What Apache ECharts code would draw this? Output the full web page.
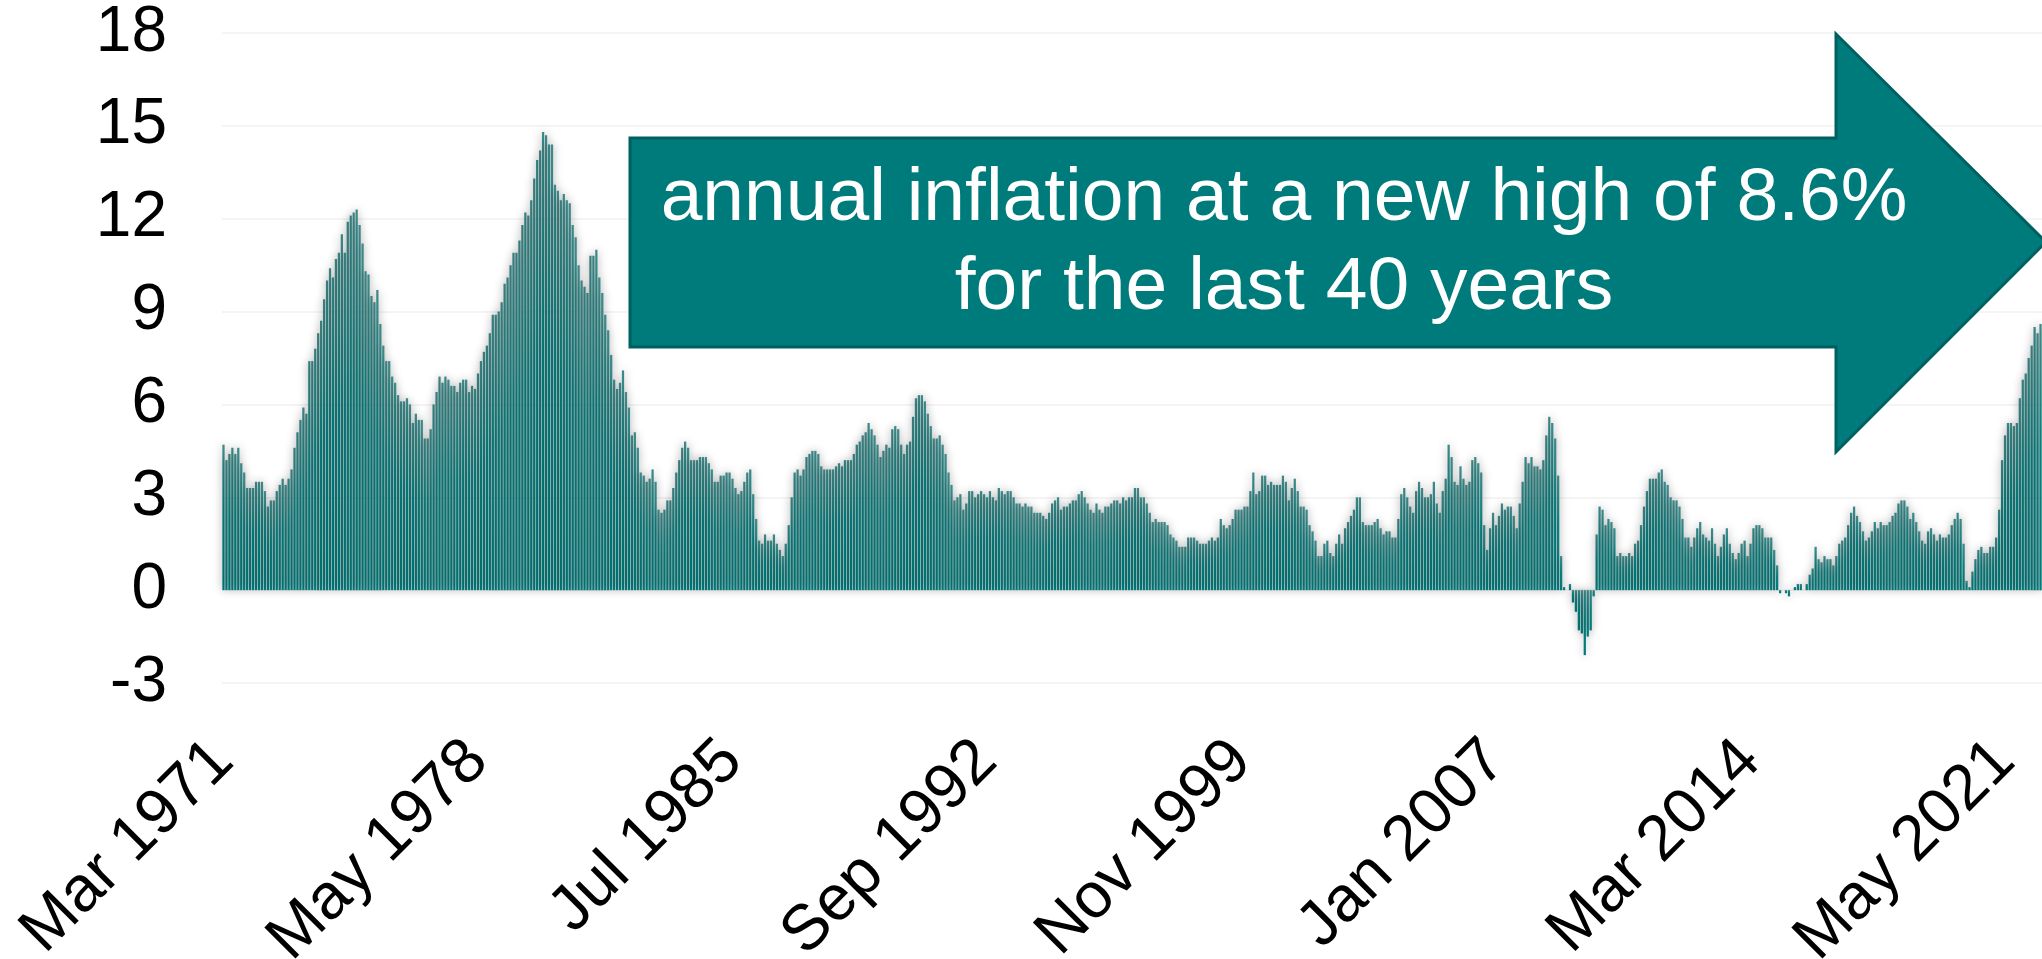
<!DOCTYPE html>
<html>
<head>
<meta charset="utf-8">
<script src="https://cdn.jsdelivr.net/npm/echarts@6/dist/echarts.min.js"></script>
<style>
html,body{margin:0;padding:0;background:#fff;}
#chart{width:2042px;height:959px;}
</style>
</head>
<body>
<div id="chart"></div>
<script>
// US annual (12-month) CPI inflation, %, monthly from Mar 1971 to May 2022
const startYear = 1971;
const startMonth = 2; // March (0-based)
const inflation = [
  // 1971 Mar-Dec
  4.7, 4.2, 4.4, 4.6, 4.4, 4.6, 4.1, 3.8, 3.3, 3.3,
  // 1972
  3.3, 3.5, 3.5, 3.5, 3.2, 2.7, 2.9, 2.9, 3.2, 3.4, 3.6, 3.4,
  // 1973
  3.6, 3.9, 4.6, 5.1, 5.5, 5.9, 5.7, 7.4, 7.4, 7.8, 8.3, 8.7,
  // 1974
  9.4, 10.0, 10.4, 10.1, 10.7, 10.9, 11.5, 10.9, 11.9, 12.1, 12.2, 12.3,
  // 1975
  11.8, 11.2, 10.3, 10.2, 9.5, 9.3, 9.7, 8.6, 7.9, 7.4, 7.4, 6.9,
  // 1976
  6.7, 6.3, 6.1, 6.1, 6.2, 6.0, 5.4, 5.7, 5.5, 5.5, 4.9, 4.9,
  // 1977
  5.2, 6.0, 6.4, 6.9, 6.7, 6.9, 6.8, 6.6, 6.6, 6.4, 6.7, 6.8,
  // 1978
  6.8, 6.4, 6.6, 6.5, 7.0, 7.4, 7.7, 7.9, 8.3, 8.9, 8.9, 9.0,
  // 1979
  9.3, 9.9, 10.1, 10.5, 10.9, 10.9, 11.3, 11.8, 12.2, 12.1, 12.6, 13.3,
  // 1980
  13.9, 14.2, 14.8, 14.7, 14.4, 14.4, 13.1, 12.9, 12.6, 12.8, 12.6, 12.5,
  // 1981
  11.8, 11.4, 10.5, 10.0, 9.8, 9.6, 10.8, 10.8, 11.0, 10.1, 9.6, 8.9,
  // 1982
  8.4, 7.6, 6.8, 6.5, 6.7, 7.1, 6.4, 5.9, 5.0, 5.1, 4.6, 3.8,
  // 1983
  3.7, 3.5, 3.6, 3.9, 3.5, 2.6, 2.5, 2.6, 2.9, 2.9, 3.3, 3.8,
  // 1984
  4.2, 4.6, 4.8, 4.6, 4.2, 4.2, 4.2, 4.3, 4.3, 4.3, 4.1, 3.9,
  // 1985
  3.5, 3.5, 3.7, 3.7, 3.8, 3.8, 3.6, 3.3, 3.1, 3.2, 3.5, 3.8,
  // 1986
  3.9, 3.1, 2.3, 1.6, 1.5, 1.8, 1.6, 1.6, 1.8, 1.5, 1.3, 1.1,
  // 1987
  1.5, 2.1, 3.0, 3.8, 3.9, 3.7, 3.9, 4.3, 4.4, 4.5, 4.5, 4.4,
  // 1988
  4.0, 3.9, 3.9, 3.9, 3.9, 4.0, 4.1, 4.0, 4.2, 4.2, 4.2, 4.4,
  // 1989
  4.7, 4.8, 5.0, 5.1, 5.4, 5.2, 5.0, 4.7, 4.3, 4.5, 4.7, 4.6,
  // 1990
  5.2, 5.3, 5.2, 4.7, 4.4, 4.7, 4.8, 5.6, 6.2, 6.3, 6.3, 6.1,
  // 1991
  5.7, 5.3, 4.9, 4.9, 5.0, 4.7, 4.4, 3.8, 3.4, 2.9, 3.0, 3.1,
  // 1992
  2.6, 2.8, 3.2, 3.2, 3.0, 3.1, 3.2, 3.1, 3.0, 3.2, 3.0, 2.9,
  // 1993
  3.3, 3.2, 3.1, 3.2, 3.2, 3.0, 2.8, 2.8, 2.7, 2.8, 2.7, 2.7,
  // 1994
  2.5, 2.5, 2.5, 2.4, 2.3, 2.5, 2.8, 2.9, 3.0, 2.6, 2.7, 2.7,
  // 1995
  2.8, 2.9, 2.9, 3.1, 3.2, 3.0, 2.8, 2.6, 2.5, 2.8, 2.6, 2.5,
  // 1996
  2.7, 2.7, 2.8, 2.9, 2.9, 2.8, 3.0, 2.9, 3.0, 3.0, 3.3, 3.3,
  // 1997
  3.0, 3.0, 2.8, 2.5, 2.2, 2.3, 2.2, 2.2, 2.2, 2.1, 1.8, 1.7,
  // 1998
  1.6, 1.4, 1.4, 1.4, 1.7, 1.7, 1.7, 1.6, 1.5, 1.5, 1.5, 1.6,
  // 1999
  1.7, 1.6, 1.7, 2.3, 2.1, 2.0, 2.1, 2.3, 2.6, 2.6, 2.6, 2.7,
  // 2000
  2.7, 3.2, 3.8, 3.1, 3.2, 3.7, 3.7, 3.4, 3.5, 3.4, 3.4, 3.4,
  // 2001
  3.7, 3.5, 2.9, 3.3, 3.6, 3.2, 2.7, 2.7, 2.6, 2.1, 1.9, 1.6,
  // 2002
  1.1, 1.1, 1.5, 1.6, 1.2, 1.1, 1.5, 1.8, 1.5, 2.0, 2.2, 2.4,
  // 2003
  2.6, 3.0, 3.0, 2.2, 2.1, 2.1, 2.1, 2.2, 2.3, 2.0, 1.8, 1.9,
  // 2004
  1.9, 1.7, 1.7, 2.3, 3.1, 3.3, 3.0, 2.7, 2.5, 3.2, 3.5, 3.3,
  // 2005
  3.0, 3.0, 3.1, 3.5, 2.8, 2.5, 3.2, 3.6, 4.7, 4.3, 3.5, 3.4,
  // 2006
  4.0, 3.6, 3.4, 3.5, 4.2, 4.3, 4.1, 3.8, 2.1, 1.3, 2.0, 2.5,
  // 2007
  2.1, 2.4, 2.8, 2.6, 2.7, 2.7, 2.4, 2.0, 2.8, 3.5, 4.3, 4.1,
  // 2008
  4.3, 4.0, 4.0, 3.9, 4.2, 5.0, 5.6, 5.4, 4.9, 3.7, 1.1, 0.1,
  // 2009
  0.0, 0.2, -0.4, -0.7, -1.3, -1.4, -2.1, -1.5, -1.3, -0.2, 1.8, 2.7,
  // 2010
  2.6, 2.1, 2.3, 2.2, 2.0, 1.1, 1.2, 1.1, 1.1, 1.2, 1.1, 1.5,
  // 2011
  1.6, 2.1, 2.7, 3.2, 3.6, 3.6, 3.6, 3.8, 3.9, 3.5, 3.4, 3.0,
  // 2012
  2.9, 2.9, 2.7, 2.3, 1.7, 1.7, 1.4, 1.7, 2.0, 2.2, 1.8, 1.7,
  // 2013
  1.6, 2.0, 1.5, 1.1, 1.4, 1.8, 2.0, 1.5, 1.2, 1.0, 1.2, 1.5,
  // 2014
  1.6, 1.1, 1.5, 2.0, 2.1, 2.1, 2.0, 1.7, 1.7, 1.7, 1.3, 0.8,
  // 2015
  -0.1, 0.0, -0.1, -0.2, 0.0, 0.1, 0.2, 0.2, 0.0, 0.2, 0.5, 0.7,
  // 2016
  1.4, 1.0, 0.9, 1.1, 1.0, 1.0, 0.8, 1.1, 1.5, 1.6, 1.7, 2.1,
  // 2017
  2.5, 2.7, 2.4, 2.2, 1.9, 1.6, 1.7, 1.9, 2.2, 2.0, 2.2, 2.1,
  // 2018
  2.1, 2.2, 2.4, 2.5, 2.8, 2.9, 2.9, 2.7, 2.3, 2.5, 2.2, 1.9,
  // 2019
  1.6, 1.5, 1.9, 2.0, 1.8, 1.6, 1.8, 1.7, 1.7, 1.8, 2.1, 2.3,
  // 2020
  2.5, 2.3, 1.5, 0.3, 0.1, 0.6, 1.0, 1.3, 1.4, 1.2, 1.2, 1.4,
  // 2021
  1.4, 1.7, 2.6, 4.2, 5.0, 5.4, 5.4, 5.3, 5.4, 6.2, 6.8, 7.0,
  // 2022 Jan-May
  7.5, 7.9, 8.5, 8.3, 8.6
];
const monthNames = ['Jan','Feb','Mar','Apr','May','Jun','Jul','Aug','Sep','Oct','Nov','Dec'];
const categories = inflation.map((_, i) => {
  const m = startMonth + i;
  return monthNames[m % 12] + ' ' + (startYear + Math.floor(m / 12));
});
const tickLabels = ['Mar 1971','May 1978','Jul 1985','Sep 1992','Nov 1999','Jan 2007','Mar 2014','May 2021'];
const yTicks = { min: -3, max: 18, step: 3 };
const annotation = ['annual inflation at a new high of 8.6%', 'for the last 40 years'];

const chart = echarts.init(document.getElementById('chart'), null, { renderer: 'canvas' });
const FONT = '"Liberation Sans", Arial, sans-serif';
const option = {
  animation: false,
  backgroundColor: '#ffffff',
  grid: { left: 222, right: 0, top: 33, bottom: 276, containLabel: false, outerBoundsMode: 'none' },
  xAxis: {
    type: 'category',
    data: categories,
    axisLine: { show: false },
    axisTick: { show: false },
    splitLine: { show: false },
    axisLabel: {
      interval: (i, v) => tickLabels.indexOf(v) >= 0,
      rotate: 45,
      fontSize: 64,
      fontFamily: FONT,
      color: '#000',
      margin: 68
    }
  },
  yAxis: {
    type: 'value',
    min: yTicks.min, max: yTicks.max, interval: yTicks.step,
    axisLine: { show: false },
    axisTick: { show: false },
    splitLine: { show: true, lineStyle: { color: '#f4f4f4', width: 2 } },
    axisLabel: { fontSize: 64, fontFamily: FONT, color: '#000', margin: 55 }
  },
  series: [{
    type: 'bar',
    data: inflation,
    barCategoryGap: '24%',
    itemStyle: {
      color: new echarts.graphic.LinearGradient(0, 0, 0, 1, [
        { offset: 0, color: '#3f8989' },
        { offset: 0.45, color: '#0a7e7e' },
        { offset: 1, color: '#007a7a' }
      ]),
      shadowBlur: 10,
      shadowColor: 'rgba(0,0,0,0.35)'
    }
  }],
  graphic: [
    {
      type: 'polygon',
      z: 100,
      shape: { points: [[630,138],[1836,138],[1836,34],[2046,242],[1836,452],[1836,347],[630,347]] },
      style: { fill: '#007b7b', stroke: '#005f60', lineWidth: 3 }
    },
    {
      type: 'text',
      z: 101,
      x: 1284, y: 244,
      style: {
        text: annotation.join('\n'),
        fill: '#ffffff',
        font: '75px ' + FONT,
        textAlign: 'center',
        textVerticalAlign: 'middle',
        lineHeight: 89
      }
    }
  ]
};
chart.setOption(option);
</script>
</body>
</html>
